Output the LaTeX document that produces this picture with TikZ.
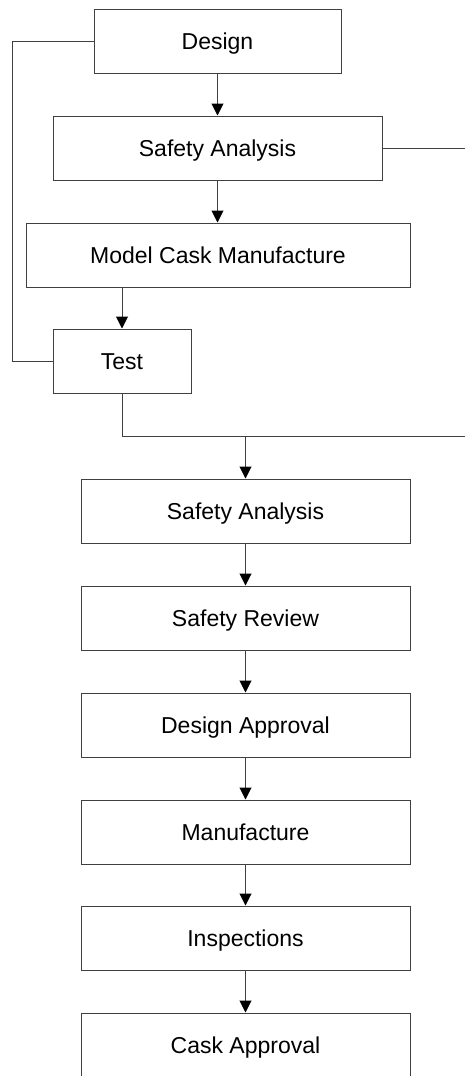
\documentclass[tikz,border=0pt]{standalone}
\usepackage{fontspec}
\setmainfont{Liberation Sans}
\usetikzlibrary{arrows.meta}
\begin{document}
\begin{tikzpicture}[x=1pt,y=-1pt,
  boxnode/.style={draw=black!75, line width=1pt, fill=white, inner sep=0pt,
    minimum height=64pt, text height=16.5pt, text depth=0pt,
    font=\fontsize{23}{27}\selectfont, text=black},
  conn/.style={draw=black!75, line width=1pt},
  arr/.style={conn, -{Triangle[width=12pt,length=12pt,fill=black,color=black]}}]
\useasboundingbox (0,0) rectangle (465,1076);
\clip (0,0) rectangle (465,1076);
\node[boxnode, minimum width=247pt] (design) at (217.5,41) {Design};
\node[boxnode, minimum width=329pt] (sa1) at (217.5,148) {Safety Analysis};
\node[boxnode, minimum width=384pt] (mcm) at (218,255) {Model Cask Manufacture};
\node[boxnode, minimum width=138pt] (test) at (122,361) {Test};
\node[boxnode, minimum width=329pt] (sa2) at (245.5,511) {Safety Analysis};
\node[boxnode, minimum width=329pt] (sr) at (245.5,618) {Safety Review};
\node[boxnode, minimum width=329pt] (da) at (245.5,725) {Design Approval};
\node[boxnode, minimum width=329pt] (man) at (245.5,832) {Manufacture};
\node[boxnode, minimum width=329pt] (insp) at (245.5,938) {Inspections};
\node[boxnode, minimum width=329pt] (ca) at (245.5,1045) {Cask Approval};
\coordinate (sar) at (465,148);
\coordinate (tr) at (465,436);
\coordinate (tb) at (122,436);
\coordinate (br) at (245.5,436);
\draw[conn] (design.west) -- (12,41) -- (12,361) -- (test.west);
\draw[arr] (design) -- (sa1);
\draw[arr] (sa1) -- (sa1.south |- mcm.north);
\draw[arr] (test.north |- mcm.south) -- (test.north);
\draw[conn] (sa1.east) -- (sar);
\draw[conn] (test.south) -- (tb) -- (tr);
\draw[arr] (br) -- (sa2.north);
\draw[arr] (sa2) -- (sr);
\draw[arr] (sr) -- (da);
\draw[arr] (da) -- (man);
\draw[arr] (man) -- (insp);
\draw[arr] (insp) -- (ca);
\end{tikzpicture}
\end{document}
